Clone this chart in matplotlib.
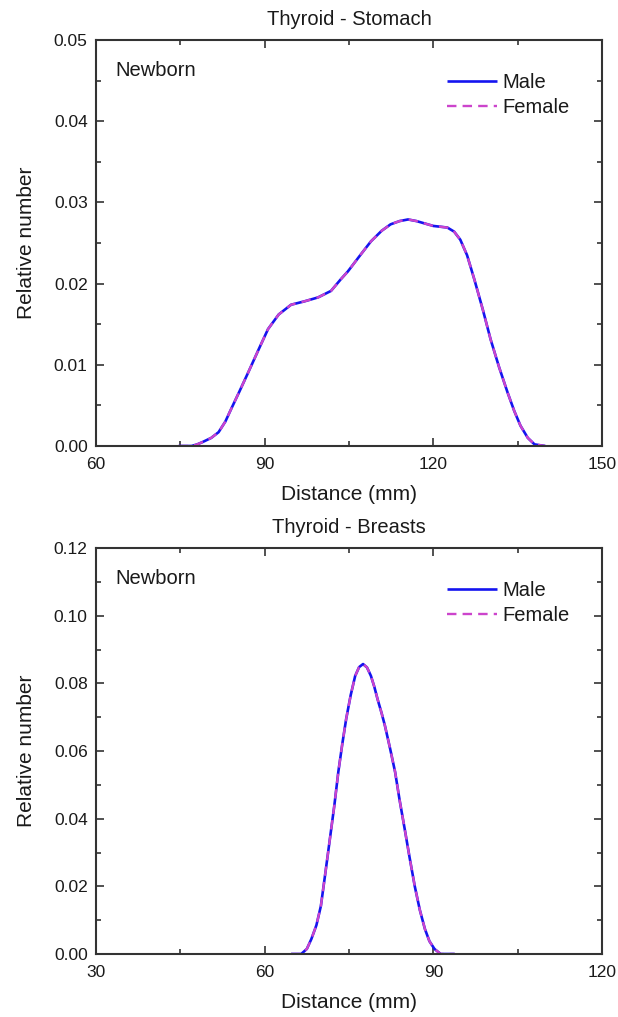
import matplotlib
matplotlib.use("Agg")
import matplotlib.pyplot as plt
from matplotlib.ticker import MultipleLocator, FormatStrFormatter

plt.rcParams['font.family'] = ['Liberation Sans', 'DejaVu Sans']

# Top panel: Thyroid - Stomach
stomach_x = [74.7, 77, 78, 79, 80.5, 81.8, 83, 84, 85.5, 87.1, 89, 90.6, 92.5, 94.7, 97, 99.5,
             101.8, 103.5, 104.8, 107, 108.9, 110.8, 112.4, 114, 115.5, 117, 118.5, 120, 121.3,
             122.5, 123.7, 124.8, 126, 127.3, 128.8, 130.2, 131.7, 133.2, 134.4, 135.5,
             136.8, 138, 139.9]
stomach_male = [0, 0, 0.0002, 0.0005, 0.0010, 0.0017, 0.0030, 0.0045, 0.0067, 0.0091, 0.0120,
                0.0144, 0.0162, 0.0174, 0.0178, 0.0183, 0.0191, 0.0205, 0.0215, 0.0235, 0.0252,
                0.0265, 0.0273, 0.0277, 0.0279, 0.0277, 0.0274, 0.0271, 0.0270, 0.0269, 0.0264,
                0.0254, 0.0235, 0.0205, 0.0168, 0.0131, 0.0097, 0.0066, 0.0043, 0.0025,
                0.0010, 0.0002, 0]
stomach_female = list(stomach_male)

# Bottom panel: Thyroid - Breasts
breasts_x = [64.7, 66.5, 67.5, 68.3, 69.2, 70.0, 70.8, 71.6, 72.4, 73.1, 73.8, 74.5, 75.3,
             76.1, 76.8, 77.5, 78.2, 78.9, 79.5, 80.1, 80.8, 81.4, 82.3, 83.2, 84.0, 84.9, 85.8,
             86.7, 87.6, 88.5, 89.3, 90.2, 91.3, 93.8]
breasts_male = [0, 0, 0.0015, 0.0044, 0.0085, 0.0142, 0.024, 0.034, 0.044, 0.0538, 0.062,
                0.0695, 0.0765, 0.0822, 0.0848, 0.0857, 0.0847, 0.0822, 0.0790, 0.0752, 0.0712,
                0.0674, 0.0608, 0.0538, 0.0455, 0.037, 0.0283, 0.020, 0.0130, 0.0074, 0.0038,
                0.0015, 0, 0]
breasts_female = list(breasts_male)

titles = ["Thyroid - Stomach", "Thyroid - Breasts"]
series_labels = ["Male", "Female"]

W, H = 618, 1017
fig = plt.figure(figsize=(W / 100, H / 100), dpi=100)

def axrect(x0, y0, x1, y1):
    return [x0 / W, 1 - y1 / H, (x1 - x0) / W, (y1 - y0) / H]

ax1 = fig.add_axes(axrect(96, 40, 602, 446))
ax2 = fig.add_axes(axrect(96, 548, 602, 954))

male_c = '#1414F0'
female_c = '#CC44CC'
txt_c = '#1a1a1a'

panels = [
    (ax1, stomach_x, stomach_male, stomach_female, (60, 150), (0, 0.05), 30, 15, 0.01, 0.005, '%.2f'),
    (ax2, breasts_x, breasts_male, breasts_female, (30, 120), (0, 0.12), 30, 15, 0.02, 0.01, '%.2f'),
]

for i, (ax, x, ym, yf, xl, yl, xmaj, xmin, ymaj, ymin, fmt) in enumerate(panels):
    ax.plot(x, ym, color=male_c, lw=1.9, label=series_labels[0], solid_capstyle='butt')
    ax.plot(x, yf, color=female_c, lw=1.7, ls=(0, (4, 2.6)), label=series_labels[1])
    ax.set_xlim(*xl)
    ax.set_ylim(*yl)
    ax.xaxis.set_major_locator(MultipleLocator(xmaj))
    ax.xaxis.set_minor_locator(MultipleLocator(xmin))
    ax.yaxis.set_major_locator(MultipleLocator(ymaj))
    ax.yaxis.set_minor_locator(MultipleLocator(ymin))
    ax.yaxis.set_major_formatter(FormatStrFormatter(fmt))
    ax.tick_params(which='both', direction='in', top=True, right=True,
                   labelsize=12.5, color='#333333', labelcolor=txt_c, width=1.2)
    ax.tick_params(which='major', length=6)
    ax.tick_params(which='minor', length=3.5)
    ax.tick_params(axis='x', which='major', pad=8)
    ax.tick_params(axis='y', which='major', pad=6)
    for s in ax.spines.values():
        s.set_color('#333333')
        s.set_linewidth(1.5)
    ax.set_title(titles[i], fontsize=14.5, pad=11, color=txt_c)
    ax.set_xlabel("Distance (mm)", fontsize=15, labelpad=9, color=txt_c)
    ax.set_ylabel("Relative number", fontsize=15, labelpad=13, color=txt_c)
    ax.text(0.0375, 0.924, "Newborn", transform=ax.transAxes, fontsize=14.5,
            color=txt_c, va='center', ha='left')
    leg = ax.legend(loc='upper left', bbox_to_anchor=(0.694, 0.918), frameon=False,
                    fontsize=14.5, handlelength=2.45, handletextpad=0.3,
                    labelspacing=0.3, borderaxespad=0, borderpad=0)
    for t in leg.get_texts():
        t.set_color(txt_c)

fig.savefig("out.png", dpi=100)
